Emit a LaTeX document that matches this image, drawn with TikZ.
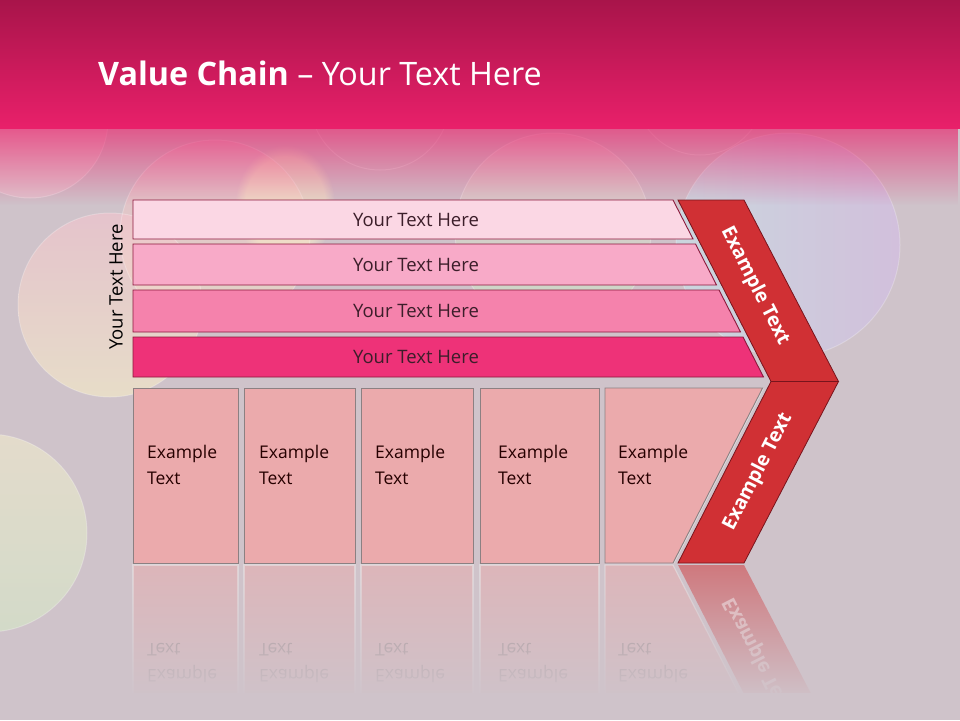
\documentclass[tikz,border=0pt]{standalone}
\usepackage{fontspec}
\setmainfont{Open Sans}
\usetikzlibrary{fadings}
\definecolor{bgc}{RGB}{207,195,202}
\definecolor{hdrtop}{RGB}{168,20,74}
\definecolor{hdrbot}{RGB}{233,32,106}
\definecolor{sA}{RGB}{251,215,228}
\definecolor{sB}{RGB}{248,170,200}
\definecolor{sC}{RGB}{245,130,172}
\definecolor{sD}{RGB}{238,50,120}
\definecolor{sline}{RGB}{140,25,60}
\definecolor{stext}{RGB}{60,30,42}
\definecolor{boxc}{RGB}{235,170,172}
\definecolor{boxline}{RGB}{140,128,130}
\definecolor{chev}{RGB}{208,48,52}
\definecolor{chevline}{RGB}{120,20,28}
\definecolor{kA1}{RGB}{245,180,200}
\definecolor{kA2}{RGB}{240,200,210}
\definecolor{kE1}{RGB}{240,180,200}
\definecolor{kE2}{RGB}{250,236,200}
\definecolor{kD1}{RGB}{232,200,208}
\definecolor{kD2}{RGB}{200,232,196}
\definecolor{kC1}{RGB}{200,228,236}
\definecolor{kC2}{RGB}{212,190,232}
\definecolor{kB1}{RGB}{244,196,206}
\definecolor{kB2}{RGB}{247,238,200}
\definecolor{kF1}{RGB}{242,236,205}
\definecolor{kF2}{RGB}{214,234,200}
\definecolor{kY}{RGB}{252,240,200}
\tikzfading[name=hdrfade, top color=transparent!35, bottom color=transparent!100]
\tikzfading[name=reflfade, top color=transparent!100, middle color=transparent!55, bottom color=transparent!0]
\tikzset{
  stripe/.style={draw=sline, line width=0.9pt},
  vbox/.style={fill=boxc, draw=boxline, line width=0.9pt},
  chevpart/.style={fill=chev, draw=chevline, line width=0.8pt},
  striptext/.style={text=stext, font=\fontsize{18.5}{22}\selectfont, inner sep=0pt},
  boxtext/.style={text=black!85!red, font=\fontsize{17.5}{26}\selectfont, align=left, anchor=west, inner sep=0pt},
  chevtext/.style={text=white, font=\bfseries\fontsize{19.5}{23}\selectfont, inner sep=0pt},
  bokeh/.style={draw=white, draw opacity=0.25, line width=1pt}
}
\begin{document}
\begin{tikzpicture}[x=1pt,y=-1pt]
\useasboundingbox (0,0) rectangle (960,720);
\fill[bgc] (0,0) rectangle (960,720);
% bokeh circles
\begin{scope}
\clip (0,0) rectangle (960,720);
\shade[top color=kA1, bottom color=kA2, opacity=0.5] (30,120) circle (78);
\shade[top color=kE1, bottom color=kE2, opacity=0.5] (215,235) circle (95);
\shade[top color=kD1, bottom color=kD2, opacity=0.6] (553,231) circle (98);
\shade[left color=kC1, right color=kC2, opacity=0.6] (788,245) circle (112);
\shade[top color=kB1, bottom color=kB2, opacity=0.6] (110,305) circle (92);
\shade[top color=kF1, bottom color=kF2, opacity=0.6] (-12,533) circle (99);
\fill[kY, opacity=0.5, path fading=circle with fuzzy edge 20 percent] (285,205) ellipse (50 and 60);
\draw[bokeh] (30,120) circle (78);
\draw[bokeh] (215,235) circle (95);
\draw[bokeh] (553,231) circle (98);
\draw[bokeh] (788,245) circle (112);
\draw[bokeh] (110,305) circle (92);
\draw[bokeh] (-12,533) circle (99);
\draw[bokeh] (380,100) circle (70);
\draw[bokeh] (700,90) circle (65);
\end{scope}
% header
\shade[top color=hdrtop, bottom color=hdrbot] (0,0) rectangle (960,128);
\fill[hdrbot, path fading=hdrfade] (0,128) rectangle (960,205);
\node[anchor=base west, text=white, inner sep=0pt, font=\fontsize{32.3}{38}\selectfont] (title) at (98,85) {\textbf{Value Chain} -- Your Text Here};
% side label
\node[rotate=90, text=black, font=\fontsize{18.5}{22}\selectfont, inner sep=0pt] (side) at (116,287) {Your Text Here};
% stripes
\fill[sA] (133,200) -- (673,200) -- (693,239) -- (133,239) -- cycle;
\draw[stripe] (133,200) -- (673,200) -- (693,239) -- (133,239) -- cycle;
\fill[sB] (133,244) -- (695.5,244) -- (716.5,285) -- (133,285) -- cycle;
\draw[stripe] (133,244) -- (695.5,244) -- (716.5,285) -- (133,285) -- cycle;
\fill[sC] (133,290) -- (719,290) -- (740.5,332) -- (133,332) -- cycle;
\draw[stripe] (133,290) -- (719,290) -- (740.5,332) -- (133,332) -- cycle;
\fill[sD] (133,337) -- (743,337) -- (763.5,377) -- (133,377) -- cycle;
\draw[stripe] (133,337) -- (743,337) -- (763.5,377) -- (133,377) -- cycle;
\node[striptext] (t1) at (416,219.5) {Your Text Here};
\node[striptext] (t2) at (416,265) {Your Text Here};
\node[striptext] (t3) at (416,311) {Your Text Here};
\node[striptext] (t4) at (416,357) {Your Text Here};
% boxes
\draw[vbox] (133,388) rectangle (238,563);
\draw[vbox] (244,388) rectangle (355,563);
\draw[vbox] (361,388) rectangle (473,563);
\draw[vbox] (480,388) rectangle (599,563);
\draw[white!75!gray, line width=2.5pt] (762.6,388) -- (673,563);
\draw[vbox] (605,388) -- (762.6,388) -- (673,563) -- (605,563) -- cycle;
\node[boxtext] (b1) at (147,465) {Example\\Text};
\node[boxtext] (b2) at (259,465) {Example\\Text};
\node[boxtext] (b3) at (375,465) {Example\\Text};
\node[boxtext] (b4) at (498,465) {Example\\Text};
\node[boxtext] (b5) at (618,465) {Example\\Text};
% chevron
\draw[chevpart] (678,200) -- (744,200) -- (838.5,381.5) -- (771,381.5) -- cycle;
\draw[chevpart] (771,381.5) -- (838.5,381.5) -- (744,563) -- (678,563) -- cycle;
\node[chevtext, rotate=-62.9] (c1) at (755,286) {Example Text};
\node[chevtext, rotate=62.9] (c2) at (758,472) {Example Text};
% reflection
\begin{scope}
\clip (100,564) rectangle (880,692);
\begin{scope}[shift={(0,1128)}, yscale=-1, transform shape, opacity=0.5]
\draw[fill=boxc, draw=white!85!gray, line width=1.2pt] (133,388) rectangle (238,563);
\draw[fill=boxc, draw=white!85!gray, line width=1.2pt] (244,388) rectangle (355,563);
\draw[fill=boxc, draw=white!85!gray, line width=1.2pt] (361,388) rectangle (473,563);
\draw[fill=boxc, draw=white!85!gray, line width=1.2pt] (480,388) rectangle (599,563);
\draw[fill=boxc, draw=white!85!gray, line width=1.2pt] (605,388) -- (762.6,388) -- (673,563) -- (605,563) -- cycle;
\fill[chev] (771,381.5) -- (838.5,381.5) -- (744,563) -- (678,563) -- cycle;
\node[boxtext, text=black!60] (r1) at (147,465) {Example\\Text};
\node[boxtext, text=black!60] (r2) at (259,465) {Example\\Text};
\node[boxtext, text=black!60] (r3) at (375,465) {Example\\Text};
\node[boxtext, text=black!60] (r4) at (498,465) {Example\\Text};
\node[boxtext, text=black!60] (r5) at (618,465) {Example\\Text};
\node[chevtext, rotate=62.9] (rc) at (758,472) {Example Text};
\end{scope}
\end{scope}
\fill[bgc, path fading=reflfade] (100,565) rectangle (880,700);
\end{tikzpicture}
\end{document}
